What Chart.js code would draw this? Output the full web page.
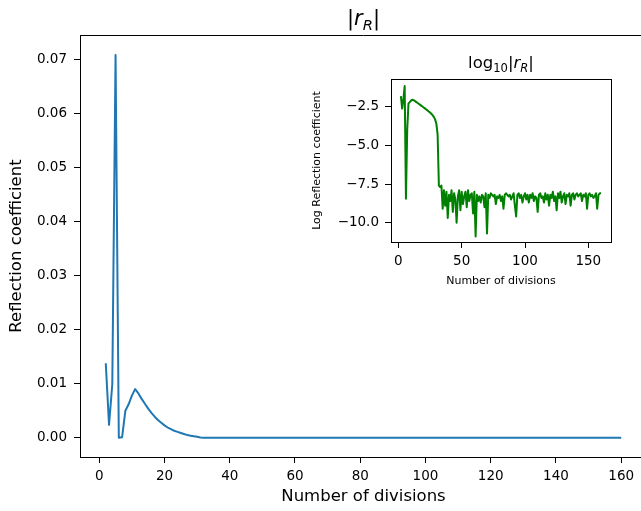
<!DOCTYPE html>
<html>
<head>
<meta charset="utf-8">
<script src="https://cdn.jsdelivr.net/npm/chart.js@4/dist/chart.umd.min.js"></script>
<style>
  html, body { margin: 0; padding: 0; background: #fff; overflow: hidden; width: 641px; height: 511px; }
  canvas { position: absolute; }
  #mainChart { left: 0; top: 0; }
  #insetChart { left: 295px; top: 40px; }
</style>
</head>
<body>
<canvas id="mainChart" width="660" height="511"></canvas>
<canvas id="insetChart" width="330" height="255"></canvas>
<script>
// number of divisions (x)
const divisions = [
  2, 3, 4, 5, 6, 7, 8, 9, 10, 11,
  12, 13, 14, 15, 16, 17, 18, 19, 20, 21,
  22, 23, 24, 25, 26, 27, 28, 29, 30, 31,
  32, 33, 34, 35, 36, 37, 38, 39, 40, 41,
  42, 43, 44, 45, 46, 47, 48, 49, 50, 51,
  52, 53, 54, 55, 56, 57, 58, 59, 60, 61,
  62, 63, 64, 65, 66, 67, 68, 69, 70, 71,
  72, 73, 74, 75, 76, 77, 78, 79, 80, 81,
  82, 83, 84, 85, 86, 87, 88, 89, 90, 91,
  92, 93, 94, 95, 96, 97, 98, 99, 100, 101,
  102, 103, 104, 105, 106, 107, 108, 109, 110, 111,
  112, 113, 114, 115, 116, 117, 118, 119, 120, 121,
  122, 123, 124, 125, 126, 127, 128, 129, 130, 131,
  132, 133, 134, 135, 136, 137, 138, 139, 140, 141,
  142, 143, 144, 145, 146, 147, 148, 149, 150, 151,
  152, 153, 154, 155, 156, 157, 158, 159, 160
];

// |r_R| (main plot)
const reflection = [
  0.0138, 0.0024, 0.0099, 0.0708, 0.0000, 0.0001, 0.0050, 0.0062, 0.0078, 0.0090,
  0.0082, 0.0072, 0.0063, 0.0054, 0.0046, 0.0039, 0.0033, 0.0028, 0.0023, 0.0019,
  0.0016, 0.0013, 0.0011, 0.0009, 0.0007, 0.0005, 0.0004, 0.0003, 0.0002, 0.00005,
  0, 0, 0, 0, 0, 0, 0, 0, 0, 0,
  0, 0, 0, 0, 0, 0, 0, 0, 0, 0,
  0, 0, 0, 0, 0, 0, 0, 0, 0, 0,
  0, 0, 0, 0, 0, 0, 0, 0, 0, 0,
  0, 0, 0, 0, 0, 0, 0, 0, 0, 0,
  0, 0, 0, 0, 0, 0, 0, 0, 0, 0,
  0, 0, 0, 0, 0, 0, 0, 0, 0, 0,
  0, 0, 0, 0, 0, 0, 0, 0, 0, 0,
  0, 0, 0, 0, 0, 0, 0, 0, 0, 0,
  0, 0, 0, 0, 0, 0, 0, 0, 0, 0,
  0, 0, 0, 0, 0, 0, 0, 0, 0, 0,
  0, 0, 0, 0, 0, 0, 0, 0, 0, 0,
  0, 0, 0, 0, 0, 0, 0, 0, 0
];

// log10|r_R| (inset)
const logReflection = [
  -1.82, -2.62, -2.00, -1.17, -8.45, -4.00, -2.30, -2.21, -2.11, -2.05,
  -2.08, -2.13, -2.19, -2.25, -2.31, -2.37, -2.43, -2.49, -2.55, -2.61,
  -2.68, -2.74, -2.81, -2.88, -2.96, -3.05, -3.16, -3.32, -3.60, -4.30,
  -7.6, -7.7, -7.6, -9.1, -7.9, -8.9, -8.0, -9.7, -8.2, -8.6,
  -7.9, -9.3, -8.1, -8.5, -10.0, -8.3, -7.9, -9.2, -8.0, -8.8,
  -8.3, -8.0, -9.0, -7.9, -8.6, -8.2, -8.1, -9.4, -8.0, -10.9,
  -8.2, -8.6, -8.3, -8.7, -8.2, -8.3, -9.0, -8.1, -10.7, -8.2,
  -8.4, -8.1, -8.2, -8.3, -8.2, -8.8, -8.3, -8.4, -8.2, -8.6,
  -8.3, -9.1, -8.2, -8.1, -8.2, -8.3, -8.2, -8.5, -8.3, -8.1,
  -8.9, -9.6, -8.2, -8.1, -8.4, -8.2, -8.7, -8.3, -8.1, -8.5,
  -8.2, -8.7, -8.2, -8.4, -8.1, -8.6, -8.3, -8.4, -9.3, -8.2,
  -8.1, -8.4, -8.3, -8.7, -8.1, -8.5, -8.2, -8.9, -8.2, -8.4,
  -8.0, -8.6, -8.3, -9.2, -8.1, -8.4, -8.0, -8.7, -8.3, -8.1,
  -8.8, -8.2, -8.3, -8.1, -8.9, -8.2, -8.1, -8.5, -8.2, -8.1,
  -8.3, -8.2, -8.1, -8.6, -8.2, -8.3, -8.1, -9.1, -8.2, -8.1,
  -8.3, -8.2, -8.4, -8.3, -8.1, -9.1, -8.2, -8.1, -8.1
];

const FONT = '"DejaVu Sans", sans-serif';

// draws simple mathtext like |r_R|, parts = [{t, it, sub}]
function drawMath(ctx, parts, cx, baseline, size) {
  function fontFor(p) {
    return (p.it ? 'italic ' : '') + (p.sub ? size * 0.7 : size) + 'px ' + FONT;
  }
  let total = 0;
  parts.forEach(p => {
    ctx.font = fontFor(p);
    total += ctx.measureText(p.t).width;
  });
  let x = cx - total / 2;
  ctx.save();
  ctx.fillStyle = '#000';
  ctx.textBaseline = 'alphabetic';
  ctx.textAlign = 'left';
  parts.forEach(p => {
    ctx.font = fontFor(p);
    ctx.fillText(p.t, x, baseline + (p.sub ? size * 0.22 : 0));
    x += ctx.measureText(p.t).width;
  });
  ctx.restore();
}

function boxPlugin(titleParts, titleSize, titleBaseline) {
  return {
    id: 'box',
    afterDraw(chart) {
      const { ctx, chartArea } = chart;
      ctx.save();
      ctx.strokeStyle = '#000';
      ctx.lineWidth = 1;
      ctx.beginPath();
      ctx.moveTo(chartArea.left, Math.round(chartArea.top) + 0.5);
      ctx.lineTo(chartArea.right, Math.round(chartArea.top) + 0.5);
      ctx.moveTo(Math.round(chartArea.right) + 0.5, chartArea.top);
      ctx.lineTo(Math.round(chartArea.right) + 0.5, chartArea.bottom);
      ctx.stroke();
      ctx.restore();
      drawMath(ctx, titleParts, (chartArea.left + chartArea.right) / 2, titleBaseline, titleSize);
    }
  };
}

function axisStyle(tickFont, pad) {
  return {
    grid: { display: true, drawOnChartArea: false, drawTicks: true, tickLength: 6, color: '#000', lineWidth: 1 },
    border: { display: true, color: '#000', width: 1 },
    ticks: { color: '#000', font: { family: FONT, size: tickFont }, padding: pad, includeBounds: false, maxRotation: 0, autoSkip: false }
  };
}

function minusFmt(digits) {
  return v => v.toFixed(digits).replace('-', '\u2212');
}

Chart.defaults.font.family = FONT;

// main chart
const mainX = axisStyle(13.5, 5);
mainX.type = 'linear';
mainX.min = -5.9;
mainX.max = 167.9;
mainX.ticks.stepSize = 20;
mainX.ticks.callback = v => String(v);
mainX.title = { display: true, text: 'Number of divisions', color: '#000', font: { family: FONT, size: 16.5 }, padding: { top: 0, bottom: 4 } };
mainX.afterFit = s => { s.height = 54; };

const mainY = axisStyle(13.5, 7);
mainY.min = -0.00355;
mainY.max = 0.0745;
mainY.ticks.stepSize = 0.01;
mainY.ticks.callback = v => v.toFixed(2);
mainY.title = { display: true, text: 'Reflection coefficient', color: '#000', font: { family: FONT, size: 16.5 }, padding: { top: 7, bottom: 0 } };
mainY.afterFit = s => { s.width = 80; };

new Chart(document.getElementById('mainChart'), {
  type: 'line',
  data: {
    datasets: [{
      data: divisions.map((d, i) => ({ x: d, y: reflection[i] })),
      borderColor: '#1f77b4',
      borderWidth: 2,
      pointRadius: 0,
      tension: 0,
      fill: false,
      borderJoinStyle: 'round'
    }]
  },
  options: {
    responsive: false,
    animation: false,
    layout: { padding: { left: 0, top: 35, right: 13, bottom: 0 } },
    plugins: { legend: { display: false }, tooltip: { enabled: false } },
    scales: { x: mainX, y: mainY }
  },
  plugins: [boxPlugin([{ t: '|' }, { t: 'r', it: true }, { t: 'R', it: true, sub: true }, { t: '|' }], 21, 25)]
});

// inset chart
const insetX = axisStyle(13.5, 5);
insetX.type = 'linear';
insetX.min = -5.8;
insetX.max = 167.9;
insetX.ticks.stepSize = 50;
insetX.ticks.callback = v => String(v);
insetX.title = { display: true, text: 'Number of divisions', color: '#000', font: { family: FONT, size: 11 }, padding: { top: 0, bottom: 7 } };
insetX.afterFit = s => { s.height = 53; };

const insetY = axisStyle(13.5, 6);
insetY.min = -11.25;
insetY.max = -0.71;
insetY.ticks.stepSize = 2.5;
insetY.ticks.callback = minusFmt(1);
insetY.title = { display: true, text: 'Log Reflection coefficient', color: '#000', font: { family: FONT, size: 11 }, padding: { top: 16, bottom: 0 } };
insetY.afterFit = s => { s.width = 96; };

new Chart(document.getElementById('insetChart'), {
  type: 'line',
  data: {
    datasets: [{
      data: divisions.map((d, i) => ({ x: d, y: logReflection[i] })),
      borderColor: 'green',
      borderWidth: 2,
      pointRadius: 0,
      tension: 0,
      fill: false,
      borderJoinStyle: 'round'
    }]
  },
  options: {
    responsive: false,
    animation: false,
    layout: { padding: { left: 0, top: 39, right: 14, bottom: 0 } },
    plugins: { legend: { display: false }, tooltip: { enabled: false } },
    scales: { x: insetX, y: insetY }
  },
  plugins: [boxPlugin([{ t: 'log' }, { t: '10', sub: true }, { t: '|' }, { t: 'r', it: true }, { t: 'R', it: true, sub: true }, { t: '|' }], 16.5, 28)]
});
</script>
</body>
</html>
